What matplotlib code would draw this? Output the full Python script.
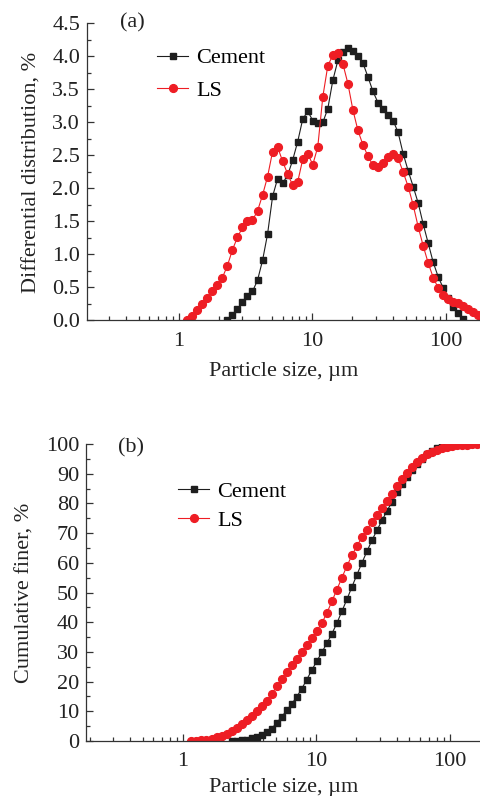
import matplotlib
matplotlib.use('Agg')
import matplotlib.pyplot as plt
from matplotlib.ticker import FixedLocator, LogLocator, MultipleLocator, NullFormatter, FormatStrFormatter

plt.rcParams['font.family'] = ['Liberation Serif', 'DejaVu Serif']

# particle size channels (um)
cement_size = [2.312, 2.522, 2.75, 2.999, 3.27, 3.566, 3.889, 4.241, 4.625, 5.044,
               5.5, 5.998, 6.541, 7.133, 7.778, 8.482, 9.25, 10.09, 11.0, 12.0,
               13.08, 14.27, 15.56, 16.96, 18.5, 20.17, 22.0, 23.99, 26.16, 28.53,
               31.11, 33.93, 37.0, 40.35, 44.0, 47.98, 52.33, 57.06, 62.23, 67.86,
               74.0, 80.7, 88.0, 95.96, 104.7, 114.1, 124.5, 135.7]
ls_size = [1.156, 1.261, 1.375, 1.499, 1.635, 1.783, 1.945, 2.121,
           2.312, 2.522, 2.75, 2.999, 3.27, 3.566, 3.889, 4.241, 4.625, 5.044,
           5.5, 5.998, 6.541, 7.133, 7.778, 8.482, 9.25, 10.09, 11.0, 12.0,
           13.08, 14.27, 15.56, 16.96, 18.5, 20.17, 22.0, 23.99, 26.16, 28.53,
           31.11, 33.93, 37.0, 40.35, 44.0, 47.98, 52.33, 57.06, 62.23, 67.86,
           74.0, 80.7, 88.0, 95.96, 104.7, 114.1, 124.5, 135.7, 148.0, 161.4,
           176.0, 191.9]

# differential distribution (%)
cement_diff = [0.00, 0.08, 0.18, 0.28, 0.37, 0.44, 0.61, 0.91, 1.31, 1.88,
               2.15, 2.08, 2.20, 2.43, 2.71, 3.05, 3.17, 3.03, 2.99, 3.00,
               3.21, 3.64, 3.94, 4.07, 4.13, 4.09, 4.01, 3.90, 3.69, 3.47,
               3.30, 3.20, 3.11, 3.03, 2.85, 2.53, 2.27, 2.03, 1.78, 1.46,
               1.17, 0.88, 0.66, 0.49, 0.34, 0.20, 0.11, 0.02]
ls_diff = [0.00, 0.07, 0.16, 0.25, 0.34, 0.44, 0.54, 0.65,
           0.83, 1.07, 1.26, 1.41, 1.51, 1.52, 1.66, 1.90, 2.18, 2.56,
           2.63, 2.41, 2.22, 2.05, 2.10, 2.44, 2.53, 2.36, 2.63, 3.39,
           3.86, 4.02, 4.05, 3.89, 3.59, 3.19, 2.88, 2.66, 2.49, 2.35,
           2.32, 2.38, 2.47, 2.52, 2.46, 2.25, 2.03, 1.75, 1.42, 1.13,
           0.87, 0.65, 0.49, 0.39, 0.32, 0.28, 0.26, 0.22, 0.18, 0.13,
           0.08, 0.02]

# cumulative finer (%)
cement_cum = [0.0, 0.1, 0.3, 0.5, 0.9, 1.4, 2.0, 2.9, 4.2, 6.1,
              8.2, 10.3, 12.5, 14.9, 17.6, 20.7, 23.9, 26.9, 29.9, 32.9,
              36.1, 39.7, 43.7, 47.7, 51.9, 56.0, 60.0, 63.9, 67.6, 71.0,
              74.3, 77.5, 80.6, 83.7, 86.5, 89.0, 91.3, 93.3, 95.1, 96.6,
              97.7, 98.6, 99.3, 99.7, 99.9, 100.0, 100.0, 100.0]
ls_cum = [0.0, 0.1, 0.2, 0.5, 0.8, 1.3, 1.8, 2.5,
          3.3, 4.4, 5.6, 7.0, 8.5, 10.0, 11.7, 13.6, 15.8, 18.4,
          21.0, 23.4, 25.6, 27.7, 29.8, 32.2, 34.7, 37.1, 39.7, 43.1,
          47.0, 51.0, 55.0, 58.9, 62.5, 65.7, 68.6, 71.2, 73.7, 76.1,
          78.4, 80.8, 83.2, 85.7, 88.1, 90.3, 92.3, 94.0, 95.4, 96.5,
          97.4, 98.1, 98.6, 99.0, 99.3, 99.5, 99.7, 99.8, 99.9, 99.95,
          100.0, 100.0]

BLACK = '#1e1e1e'
RED = '#ee1d24'
FS = 16


def style_axes(ax, xlim, ylim, ymajor, yminor, yfmt, xpad):
    ax.set_xscale('log')
    ax.set_xlim(*xlim)
    ax.set_ylim(*ylim)
    ax.spines['top'].set_visible(False)
    ax.spines['right'].set_visible(False)
    for s in ('left', 'bottom'):
        ax.spines[s].set_color('#333333')
        ax.spines[s].set_linewidth(0.9)
    ax.xaxis.set_major_locator(FixedLocator([1, 10, 100]))
    ax.xaxis.set_major_formatter(FormatStrFormatter('%g'))
    ax.xaxis.set_minor_locator(LogLocator(base=10, subs=range(2, 10), numticks=20))
    ax.xaxis.set_minor_formatter(NullFormatter())
    ax.yaxis.set_major_locator(MultipleLocator(ymajor))
    ax.yaxis.set_minor_locator(MultipleLocator(yminor))
    ax.yaxis.set_major_formatter(FormatStrFormatter(yfmt))
    ax.tick_params(which='both', direction='in', color='#333333', width=0.9,
                   labelsize=FS, labelcolor='#222222')
    ax.tick_params(which='major', length=5)
    ax.tick_params(which='minor', length=3)
    ax.tick_params(axis='x', pad=8)
    ax.tick_params(axis='y', pad=5)
    ax.set_xlabel('Particle size, µm', fontsize=FS, color='#222222', labelpad=xpad)


fig = plt.figure(figsize=(4.81, 7.96), dpi=100)

# (a) differential distribution
ax1 = fig.add_axes([87 / 481, (796 - 320.5) / 796, (481 - 87) / 481, 297 / 796])
ax1.plot(cement_size, cement_diff, '-s', color=BLACK, lw=0.8, ms=5.0, label='Cement')
ax1.plot(ls_size, ls_diff, '-o', color=RED, lw=0.8, ms=5.6, label='LS')
style_axes(ax1, (0.205, 184), (0, 4.5), 0.5, 0.25, '%.1f', 8)
ax1.set_ylabel('Differential distribution, %', fontsize=FS, color='#222222', labelpad=8)
ax1.legend(loc='upper left', bbox_to_anchor=(0.178, 0.918), frameon=False, fontsize=FS,
           handlelength=1.4, handletextpad=0.35, labelspacing=0.55, borderpad=0,
           borderaxespad=0)
fig.text(120 / 481, 1 - 23 / 796, '(a)', fontsize=FS, color='#222222', va='center')

# (b) cumulative finer
ax2 = fig.add_axes([86 / 481, (796 - 741) / 796, (481 - 86) / 481, 297 / 796])
ax2.plot(cement_size, cement_cum, '-s', color=BLACK, lw=0.8, ms=5.0, label='Cement')
ax2.plot(ls_size, ls_cum, '-o', color=RED, lw=0.8, ms=5.6, label='LS')
style_axes(ax2, (0.187, 172), (0, 100), 10, 5, '%d', 5)
ax2.set_ylabel('Cumulative finer, %', fontsize=FS, color='#222222', labelpad=8)
ax2.legend(loc='upper left', bbox_to_anchor=(0.233, 0.875), frameon=False, fontsize=FS,
           handlelength=1.4, handletextpad=0.35, labelspacing=0.4, borderpad=0,
           borderaxespad=0)
fig.text(118 / 481, 1 - 448 / 796, '(b)', fontsize=FS, color='#222222', va='center')

fig.savefig('out.png', dpi=100)
